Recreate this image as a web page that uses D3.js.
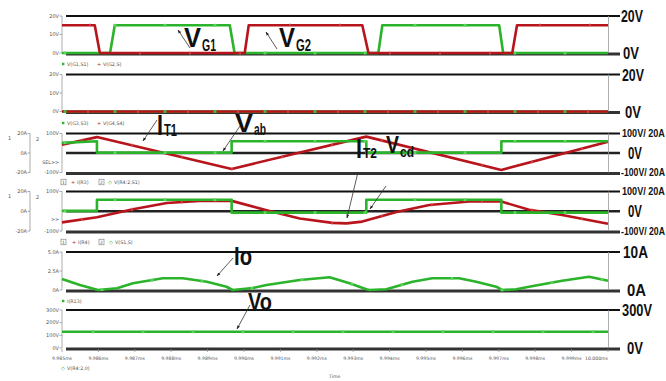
<!DOCTYPE html>
<html><head><meta charset="utf-8">
<script src="https://cdn.jsdelivr.net/npm/d3@7"></script>
<style>html,body{margin:0;padding:0;background:#fff;overflow:hidden}</style>
</head><body><svg id="c" width="666" height="381"></svg>
<script>
// ---------------- data ----------------
const timeTicks = [9.985,9.986,9.987,9.988,9.989,9.990,9.991,9.992,9.993,9.994,9.995,9.996,9.997,9.998,9.999,10.000];
const timeTickLabels = ["9.985ms","9.986ms","9.987ms","9.988ms","9.989ms","9.990ms","9.991ms","9.992ms","9.993ms","9.994ms","9.995ms","9.996ms","9.997ms","9.998ms","9.999ms","10.000ms"];

// panel 1 : gate voltages
const vg1Time = [9.98500,9.98632,9.98645,9.98961,9.98974,9.99369,9.99380,9.99701,9.99712,10.00000];
const vg1     = [0,0,15,15,0,0,15,15,0,0];
const vg2Time = [9.98500,9.98590,9.98604,9.99002,9.99013,9.99325,9.99342,9.99737,9.99750,10.00000];
const vg2     = [15,15,0,0,15,15,0,0,15,15];
// panel 2
const vg3Time = [9.985,10.000];
const vg3     = [0,0];
const vg4Time = [9.985,10.000];
const vg4     = [0,0];
// panel 3 : transformer current IT1 (A) and Vab (V)
const it1Time = [9.98500,9.98596,9.98966,9.99336,9.99707,10.00000];
const it1     = [8.4,16.3,-16.3,16.8,-17.4,11.6];
const vabTime = [9.98500,9.98596,9.98596,9.98966,9.98966,9.99336,9.99336,9.99707,9.99707,10.00000];
const vab     = [52,60,2,2,60,60,2,2,60,60];
// panel 4 : IT2 (A) and Vcd (V)
const it2Time = [9.98500,9.98596,9.98695,9.98788,9.98878,9.98966,9.99062,9.99153,9.99243,9.99282,9.99325,9.99419,9.99509,9.99619,9.99707,9.99783,9.99874,10.00000];
const it2     = [-11.3,-6.0,2.1,8.4,10.5,10.5,1.1,-7.4,-11.8,-12.3,-10.5,-0.7,6.3,9.8,9.8,1.6,-3.7,-12.6];
const vcdTime = [9.98500,9.98596,9.98596,9.98966,9.98966,9.99336,9.99336,9.99707,9.99707,10.00000];
const vcd     = [2,2,58,58,-7,-7,58,58,-7,-7];
// panel 5 : output current Io (A)
const ioTime = [9.98500,9.98549,9.98599,9.98651,9.98695,9.98777,9.98832,9.98898,9.98952,9.98969,9.99024,9.99062,9.99153,9.99235,9.99290,9.99336,9.99345,9.99391,9.99463,9.99517,9.99591,9.99638,9.99693,9.99709,9.99748,9.99783,9.99874,9.99948,10.00000];
const io     = [1.45,0.66,0,0.22,0.88,1.54,1.54,1.09,0.43,0,0.26,0.66,1.32,1.67,0.88,0.09,0,0.09,1.09,1.54,1.54,1.09,0.43,0,0.09,0.43,1.22,1.75,1.22];
// panel 6 : output voltage Vo (V)
const voTime = [9.985,10.000];
const vo     = [128,128];

// axis tick values / labels
const gateTicks = [0,10,20];          const gateTickLabels = ["0V","10V","20V"];
const ampTicks = [-20,0,20];          const ampTickLabels = ["-20A","0A","20A"];
const voltTicks = [-100,100];         const voltTickLabels = ["-100V","100V"];
const ioTicks = [0,2.5,5];            const ioTickLabels = ["0A","2.5A","5.0A"];
const voTicks = [0,100,200,300];      const voTickLabels = ["0V","100V","200V","300V"];

// right-hand annotation labels
const rightGateVals = [20,0];         const rightGateText = ["20V","0V"];
const rightBridgeVals = [20,0,-20];   const rightBridgeText = ["100V/ 20A","0V","-100V/ 20A"];
const rightIoVals = [5,0];            const rightIoText = ["10A","0A"];
const rightVoVals = [300,0];          const rightVoText = ["300V","0V"];

// legends
const legend1 = ["V(G1,S1)","V(G2,S)"];
const legend2 = ["V(G3,S3)","V(G4,S4)"];
const legend3 = ["I(R3)","V(R4:2,S1)"];
const legend4 = ["I(R4)","V(S1,S)"];
const legend5 = ["I(R13)"];
const legend6 = ["V(R4:2,0)"];

// ---------------- drawing ----------------
const RED = "#b8141c", GREEN = "#2bb32b";
const svg = d3.select("#c");
const x = d3.scaleLinear().domain([9.985,10.000]).range([62,608]);
const LX0 = 66, LX1 = 620;
const small = "DejaVu Sans";
const big = "'Liberation Sans Narrow','Arial Narrow','Liberation Sans',Arial,sans-serif";

const defs = svg.append("defs");
defs.append("marker").attr("id","ah").attr("viewBox","0 0 10 10").attr("refX",9).attr("refY",5)
  .attr("markerWidth",5).attr("markerHeight",5).attr("orient","auto")
  .append("path").attr("d","M0,1.5 L10,5 L0,8.5 z").attr("fill","#222");

const yP1 = d3.scaleLinear().domain([0,20]).range([53,16]);
const yP2 = d3.scaleLinear().domain([0,20]).range([111.5,74.5]);
const yP3 = d3.scaleLinear().domain([-20,20]).range([172.5,133.5]);
const yP3v = d3.scaleLinear().domain([-100,100]).range([172.5,133.5]);
const yP4 = d3.scaleLinear().domain([-20,20]).range([231,191.5]);
const yP4v = d3.scaleLinear().domain([-100,100]).range([231,191.5]);
const yP5 = d3.scaleLinear().domain([0,5]).range([290,252]);
const yP6 = d3.scaleLinear().domain([0,300]).range([348,310]);

function hline(yv, kind){
  const st = {top:["#111",2], bot:["#333",3.2], mid:["#222",2.4]}[kind];
  svg.append("line").attr("x1",LX0).attr("x2",LX1)
    .attr("y1", kind==="bot"? yv+1 : yv).attr("y2", kind==="bot"? yv+1 : yv)
    .attr("stroke",st[0]).attr("stroke-width",st[1]);
}
function frame(ys){
  const r = ys.range();
  svg.append("line").attr("x1",62).attr("x2",62).attr("y1",r[1]).attr("y2",r[0]).attr("stroke","#999").attr("stroke-width",0.8);
  svg.append("line").attr("x1",608.5).attr("x2",608.5).attr("y1",r[1]).attr("y2",r[0]).attr("stroke","#999").attr("stroke-width",0.8);
}
function leftAxis(ys, vals, labels, xr){
  xr = xr || 62;
  vals.forEach((v,i)=>{
    svg.append("line").attr("x1",xr-2.5).attr("x2",xr).attr("y1",ys(v)).attr("y2",ys(v)).attr("stroke","#888").attr("stroke-width",0.7);
    svg.append("text").attr("x",xr-3).attr("y",ys(v)).attr("dy","0.35em").attr("text-anchor","end")
      .attr("font-family",small).attr("font-size",5).attr("fill","#555").text(labels[i]);
  });
}
// right labels: condensed by a horizontal scale transform to the measured width
function rightLabels(ys, vals, texts, sizes, widths, dxs){
  vals.forEach((v,i)=>{
    const g = svg.append("g");
    const t = g.append("text").attr("x",0).attr("y",0).attr("dy","0.36em")
      .attr("font-family",big).attr("font-weight","bold").attr("font-size",sizes[i])
      .attr("fill","#111").text(texts[i]);
    const nat = t.node().getComputedTextLength() || widths[i];
    const sx = widths[i]/nat;
    g.attr("transform",`translate(${LX1+1+(dxs?dxs[i]:0)},${ys(v)}) scale(${sx},1)`);
  });
}
function interp(ts, vs, t){
  for(let i=0;i<ts.length-1;i++){
    if(t>=ts[i] && t<=ts[i+1]){
      if(ts[i+1]===ts[i]) return vs[i+1];
      return vs[i] + (vs[i+1]-vs[i])*(t-ts[i])/(ts[i+1]-ts[i]);
    }
  }
  return vs[vs.length-1];
}
function trace(ts, vs, ys, color, mk, offPx){
  const data = d3.zip(ts, vs);
  svg.append("path").datum(data).attr("fill","none").attr("stroke",color).attr("stroke-width",2.6)
    .attr("stroke-linejoin","round")
    .attr("d", d3.line().x(d=>x(d[0])).y(d=>ys(d[1])));
  // small simulator markers along the trace
  for(let px = 62+offPx; px <= 608; px += 50){
    const t = x.invert(px);
    const yy = ys(interp(ts, vs, t));
    if(mk==="sq"){
      svg.append("rect").attr("x",px-1.4).attr("y",yy-1.4).attr("width",2.8).attr("height",2.8).attr("fill","#5fd35f");
    } else {
      svg.append("line").attr("x1",px).attr("x2",px).attr("y1",yy-1.8).attr("y2",yy+1.8).attr("stroke","#e06a6a").attr("stroke-width",0.9);
    }
  }
}
function legendItem(xm, yv, color, shape, text){
  if(shape==="sq") svg.append("rect").attr("x",xm-1).attr("y",yv-1.2).attr("width",2.4).attr("height",2.4).attr("fill",color);
  else if(shape==="plus") svg.append("text").attr("x",xm).attr("y",yv).attr("dy","0.35em").attr("text-anchor","middle").attr("font-family",small).attr("font-size",5).attr("fill",color).text("+");
  else svg.append("text").attr("x",xm).attr("y",yv).attr("dy","0.35em").attr("text-anchor","middle").attr("font-family",small).attr("font-size",5).attr("fill",color).text("◇");
  svg.append("text").attr("x",xm+4).attr("y",yv).attr("dy","0.35em").attr("font-family",small).attr("font-size",4.8).attr("fill","#555").text(text);
}
function box(xb, yv, n){
  svg.append("rect").attr("x",xb).attr("y",yv-2.8).attr("width",5).attr("height",5.6).attr("fill","none").attr("stroke","#777").attr("stroke-width",0.6);
  svg.append("text").attr("x",xb+2.5).attr("y",yv).attr("dy","0.35em").attr("text-anchor","middle").attr("font-family",small).attr("font-size",4.5).attr("fill","#555").text(n);
}

// ---- horizontal reference lines ----
[yP1,yP2,yP5,yP6].forEach(s=>{ const d=s.domain(); hline(s(d[1]),"top"); hline(s(d[0]),"bot"); });
[yP3,yP4].forEach(s=>{ hline(s(20),"top"); hline(s(0),"mid"); hline(s(-20),"bot"); });
[yP1,yP2,yP3,yP4,yP5,yP6].forEach(frame);

// ---- left axes ----
leftAxis(yP1, gateTicks, gateTickLabels);
leftAxis(yP2, gateTicks, gateTickLabels);
leftAxis(yP3v, voltTicks, voltTickLabels);
leftAxis(yP4v, voltTicks, voltTickLabels);
leftAxis(yP3, ampTicks, ampTickLabels, 30);
leftAxis(yP4, ampTicks, ampTickLabels, 30);
leftAxis(yP5, ioTicks, ioTickLabels);
leftAxis(yP6, voTicks, voTickLabels);
[yP3,yP4].forEach(s=>{
  svg.append("line").attr("x1",30).attr("x2",30).attr("y1",s(20)).attr("y2",s(-20)).attr("stroke","#888").attr("stroke-width",0.7);
  svg.append("text").attr("x",8).attr("y",s(20)+6).attr("font-family",small).attr("font-size",5).attr("fill","#555").text("1");
  svg.append("text").attr("x",36).attr("y",s(20)+7).attr("font-family",small).attr("font-size",5).attr("fill","#555").text("2");
});
svg.append("text").attr("x",59).attr("y",yP3(-10)).attr("dy","0.35em").attr("text-anchor","end").attr("font-family",small).attr("font-size",4.8).attr("fill","#555").text("SEL>>");
svg.append("text").attr("x",59).attr("y",yP4(-8)).attr("dy","0.35em").attr("text-anchor","end").attr("font-family",small).attr("font-size",4.8).attr("fill","#555").text(">>");

// ---- time axis ----
timeTicks.forEach((t,i)=>{
  svg.append("line").attr("x1",x(t)).attr("x2",x(t)).attr("y1",349).attr("y2",352).attr("stroke","#888").attr("stroke-width",0.7);
  const last = i===timeTicks.length-1;
  svg.append("text").attr("x", x(t)).attr("y",358).attr("dy","0.35em")
    .attr("text-anchor", last? "end":"middle").attr("font-family",small).attr("font-size",4.6).attr("fill","#555").text(timeTickLabels[i]);
});
svg.append("text").attr("x",329).attr("y",378).attr("font-family",small).attr("font-size",4.6).attr("fill","#555").text("Time");

// ---- traces ----
trace(vg1Time, vg1, yP1, GREEN, "sq", 3);
trace(vg2Time, vg2, yP1, RED, "tick", 28);
trace(vg3Time, vg3, yP2, GREEN, "sq", 3);
trace(vg4Time, vg4, yP2, RED, "tick", 26);
// green markers of panel 2 remain visible over the red trace
for(let px=65; px<=608; px+=50){ svg.append("rect").attr("x",px-1.4).attr("y",yP2(0)-1.4).attr("width",2.8).attr("height",2.8).attr("fill","#3fc33f"); }
trace(it1Time, it1, yP3, RED, "tick", 20);
trace(vabTime, vab, yP3v, GREEN, "sq", 3);
trace(it2Time, it2, yP4, RED, "tick", 20);
trace(vcdTime, vcd, yP4v, GREEN, "sq", 3);
trace(ioTime, io, yP5, GREEN, "sq", 40);
trace(voTime, vo, yP6, GREEN, "sq", 31);

// ---- legends ----
legendItem(63, 64, GREEN, "sq", legend1[0]);
legendItem(99, 64, RED, "plus", legend1[1]);
legendItem(63, 123, GREEN, "sq", legend2[0]);
legendItem(99, 123, RED, "plus", legend2[1]);
box(61, 182, "1"); legendItem(73, 182, RED, "plus", legend3[0]);
box(99, 182, "2"); legendItem(110, 182, GREEN, "dia", legend3[1]);
box(61, 242, "1"); legendItem(74, 242, RED, "plus", legend4[0]);
box(99, 242, "2"); legendItem(111, 242, GREEN, "dia", legend4[1]);
legendItem(63, 301, GREEN, "sq", legend5[0]);
legendItem(63, 368, GREEN, "dia", legend6[0]);

// ---- right-hand labels ----
rightLabels(yP1, rightGateVals, rightGateText, [17,17], [22,16], [0,2]);
rightLabels(yP2, rightGateVals, rightGateText, [17,17], [22,16], [1,4]);
rightLabels(yP3, rightBridgeVals, rightBridgeText, [11,16,11], [43,14,44], [1,7,0]);
rightLabels(yP4, rightBridgeVals, rightBridgeText, [11,16,11], [43,14,44], [1,7,0]);
rightLabels(yP5, rightIoVals, rightIoText, [16,16], [25,19], [2,6]);
rightLabels(yP6, rightVoVals, rightVoText, [16,16], [30,16], [1,6]);

// ---- annotations with arrows ----
function ann(xp, yp, main, sub, fs, w, subFs, subW, subDy){
  svg.append("text").attr("x",xp).attr("y",yp).attr("font-family",big).attr("font-weight","bold")
    .attr("font-size",fs).attr("fill","#111").attr("textLength",w).attr("lengthAdjust","spacingAndGlyphs").text(main);
  if(sub) svg.append("text").attr("x",xp+w+1).attr("y",yp+subDy).attr("font-family",big).attr("font-weight","bold")
    .attr("font-size",subFs).attr("fill","#111").attr("textLength",subW).attr("lengthAdjust","spacingAndGlyphs").text(sub);
}
function arrow(x1,y1,x2,y2){
  svg.append("line").attr("x1",x1).attr("y1",y1).attr("x2",x2).attr("y2",y2).attr("stroke","#333").attr("stroke-width",0.8).attr("marker-end","url(#ah)");
}
ann(184, 47, "V", "G1", 27, 17, 17, 14, 4);
arrow(190, 48, 178, 30);
ann(279, 47, "V", "G2", 27, 16, 17, 15, 4);
arrow(277, 49, 266, 32);
ann(157, 135, "I", "T1", 30, 6, 16, 13, 1);
arrow(157, 120, 143, 141);
ann(235, 132, "V", "ab", 26, 18, 17, 12, 3);
arrow(240, 126, 223, 151);
ann(356, 158, "I", "T2", 27, 6, 15, 14, 0);
arrow(358, 172, 347, 218);
ann(386, 153, "V", "cd", 23, 13, 14, 14, 4);
arrow(386, 186, 370, 209);
ann(234, 265, "Io", null, 25, 18);
arrow(233, 258, 217, 276);
ann(248, 310, "Vo", null, 24, 24);
arrow(250, 305, 237, 329);
</script></body></html>
